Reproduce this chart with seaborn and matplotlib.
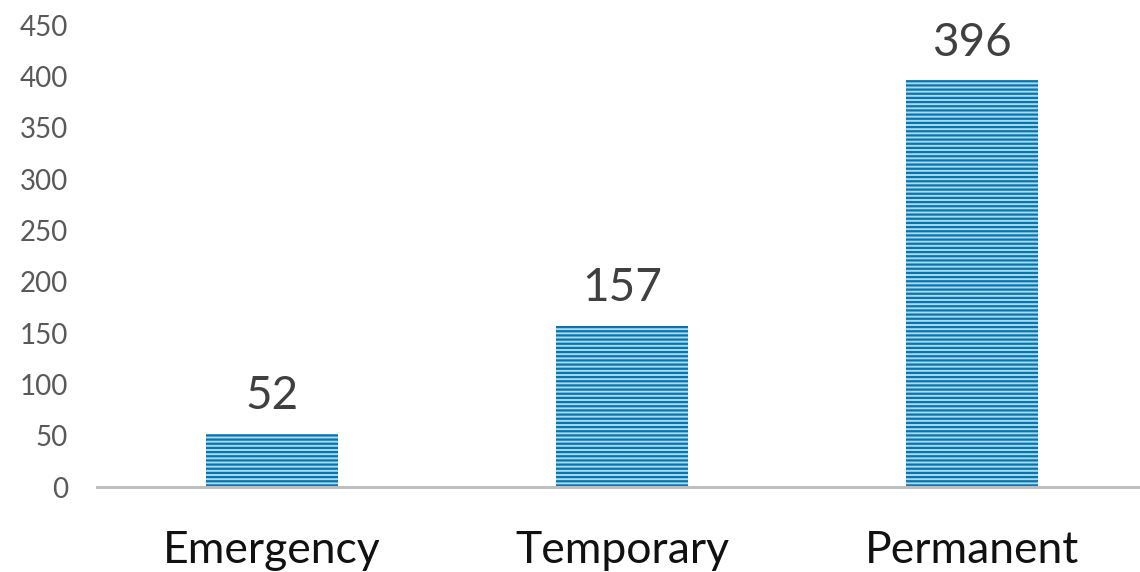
import matplotlib
matplotlib.use("Agg")
import matplotlib.pyplot as plt
import seaborn as sns
import pandas as pd

categories = ["Emergency", "Temporary", "Permanent"]
counts = [52, 157, 396]
y_ticks = [0, 50, 100, 150, 200, 250, 300, 350, 400, 450]

sns.set_theme(style="white")
plt.rcParams['font.family'] = ['Lato', 'DejaVu Sans']
plt.rcParams['hatch.linewidth'] = 1.6

df = pd.DataFrame({"type": categories, "count": counts})

fig = plt.figure(figsize=(11.4, 5.72), dpi=100)
ax = fig.add_axes([97 / 1140, 85 / 572, 1 - 97 / 1140, 462 / 572])

sns.barplot(data=df, x="type", y="count", ax=ax, width=0.375,
            color="#a6dbf3", saturation=1)
for patch in ax.patches:
    patch.set_hatch("----")
    patch.set_edgecolor("#0a74ad")
    patch.set_linewidth(0)

ax.bar_label(ax.containers[0], padding=12, fontsize=33, color="#404040")

ax.set_ylim(0, 450)
ax.set_xlim(-0.5, 2.48)
ax.set_yticks(y_ticks)
ax.set_xlabel("")
ax.set_ylabel("")
ax.tick_params(axis="y", length=0, pad=21, labelsize=20, labelcolor="#595959")
ax.tick_params(axis="x", length=0, pad=31, labelsize=32, labelcolor="#111111")

for side in ["top", "right", "left"]:
    ax.spines[side].set_visible(False)
ax.spines["bottom"].set_color("#bfbfbf")
ax.spines["bottom"].set_linewidth(2.2)

fig.savefig("out.png", dpi=100)
